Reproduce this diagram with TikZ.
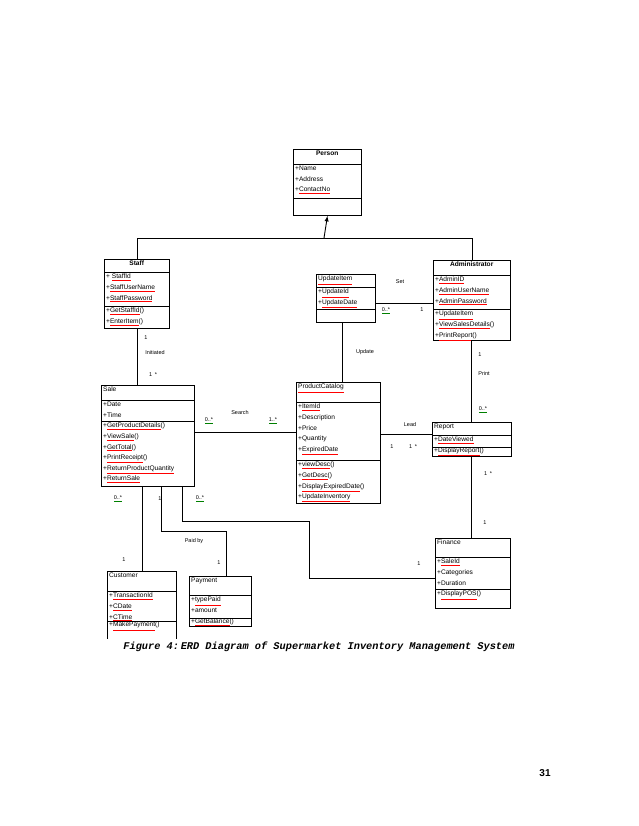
\documentclass[tikz,border=0pt]{standalone}
\usepackage{fontspec}
\setmainfont{Liberation Sans}
\newfontfamily\capfont{Liberation Mono}
\begin{document}
\newcommand{\rl}[1]{\textcolor{red}{\underline{\textcolor{black}{#1}}}}
\newcommand{\gl}[1]{\textcolor{green!50!black}{\underline{\textcolor{black}{#1}}}}
% \cls{name}{x1}{y1}{x2}{y2}{s1}{s2}{title}{attrs}
\newcommand{\cls}[9]{%
  \node[box,minimum width={#4-#2},minimum height={#5-#3},anchor=north west] (#1) at (#2,#3) {};
  \draw[con] (#2,#6) -- (#4,#6);
  \draw[con] (#2,#7) -- (#4,#7);
  \node[txt,anchor=north west] (#1-t) at (#2,#3) {#8};
  \node[txt,anchor=north west] (#1-a) at (#2,#6) {#9};
  \coordinate (#1-m) at (#2,#7);
}
\begin{tikzpicture}[x=1pt,y=-1pt,
  box/.style={draw,line width=0.9pt,inner sep=0pt},
  txt/.style={font=\fontsize{6.6}{10.6}\selectfont,align=left,inner xsep=2pt,inner ysep=2pt},
  lab/.style={font=\fontsize{5.5}{6}\selectfont,inner sep=0pt},
  con/.style={line width=0.9pt}]
\useasboundingbox (0,0) rectangle (638,826);
\cls{person}{293}{149}{361}{215}{164}{198}{\makebox[64pt]{\textbf{Person}}}{+Name\\+Address\\+\rl{ContactNo}}
\cls{staff}{104}{259}{169}{328}{272}{306}{\makebox[61pt]{\textbf{Staff}}}{+ \rl{StaffId}\\+\rl{StaffUserName}\\+\rl{StaffPassword}}
\node[txt,anchor=north west] (staff-mt) at (staff-m) {+\rl{GetStaffId}()\\+\rl{EnterItem}()};
\cls{upd}{316}{274}{375}{322}{287}{309}{\rl{UpdateItem}}{+\rl{UpdateId}\\+\rl{UpdateDate}}
\cls{admin}{433}{260}{510}{340}{275}{309}{\makebox[73pt]{\textbf{Administrator}}}{+\rl{AdminID}\\+\rl{AdminUserName}\\+\rl{AdminPassword}}
\node[txt,anchor=north west] (admin-mt) at (admin-m) {+\rl{UpdateItem}\\+\rl{ViewSalesDetails}()\\+\rl{PrintReport}()};
\cls{sale}{101}{385}{194}{486}{400}{421}{Sale}{+Date\\+Time}
\node[txt,anchor=north west] (sale-mt) at (sale-m) {+\rl{GetProductDetails}()\\+\rl{ViewSale}()\\+\rl{GetTotal}()\\+\rl{PrintReceipt}()\\+\rl{ReturnProductQuantity}\\+\rl{ReturnSale}};
\cls{pc}{296}{382}{380}{503}{402}{460}{\rl{ProductCatalog}}{+\rl{ItemId}\\+Description\\+Price\\+Quantity\\+\rl{ExpiredDate}}
\node[txt,anchor=north west] (pc-mt) at (pc-m) {+\rl{viewDesc}()\\+\rl{GetDesc}()\\+\rl{DisplayExpiredDate}()\\+\rl{UpdateInventory}};
\cls{report}{432}{422}{511}{456}{435}{447}{Report}{+\rl{DateViewed}}
\node[txt,anchor=north west,inner ysep=0.5pt] (report-mt) at (report-m) {+\rl{DisplayReport}()};
\cls{fin}{435}{538}{510}{608}{557}{589}{Finance}{+\rl{SaleId}\\+Categories\\+Duration}
\node[txt,anchor=north west] (fin-mt) at (fin-m) {+\rl{DisplayPOS}()};
\cls{cust}{107}{571}{176}{640}{591}{621}{Customer}{+\rl{TransactionId}\\+\rl{CDate}\\+\rl{CTime}}
\node[txt,anchor=north west,inner ysep=1pt] (cust-mt) at (cust-m) {+\rl{MakePayment}()};
\cls{pay}{189}{576}{251}{626}{595}{618}{Payment}{+\rl{typePaid}\\+amount}
\node[txt,anchor=north west,inner ysep=0.5pt] (pay-mt) at (pay-m) {+\rl{GetBalance}()};
% inheritance
\coordinate (j) at (324,238);
\draw[con,-latex] (j) -- (person.south);
\draw[con] (staff.north) |- (j);
\draw[con] (j) -| (admin.north);
% associations
\draw[con] (staff.south) -- (staff.south |- sale.north);
\draw[con] (upd.east |- 0,303) -- (admin.west |- 0,303);
\draw[con] (342,322) -- (342,382);
\draw[con] (471,340) -- (471,422);
\draw[con] (sale.east |- 0,432) -- (pc.west |- 0,432);
\draw[con] (pc.east |- 0,434) -- (report.west |- 0,434);
\draw[con] (471,456) -- (471,538);
\draw[con] (142,486) -- (142,571);
\draw[con] (161,486) -- (161,531) -| (226,576);
\draw[con] (182,486) -- (182,521) -| (309,578) -- (fin.west |- 0,578);
% labels
\node[lab] (l1) at (146,338) {1};
\node[lab] (l2) at (155,353) {Initiated};
\node[lab] (l3) at (153,375) {1\enspace*};
\node[lab] (l4) at (400,282) {Set};
\node[lab] (l5) at (386,311) {\gl{0..*}};
\node[lab] (l6) at (422,310) {1};
\node[lab] (l7) at (365,352) {Update};
\node[lab] (l8) at (480,355) {1};
\node[lab] (l9) at (484,374) {Print};
\node[lab] (l10) at (483,410) {\gl{0..*}};
\node[lab] (l11) at (240,413) {Search};
\node[lab] (l12) at (209,421) {\gl{0..*}};
\node[lab] (l13) at (273,421) {\gl{1..*}};
\node[lab] (l14) at (410,425) {Lead};
\node[lab] (l15) at (392,447) {1};
\node[lab] (l16) at (413,447) {1\enspace*};
\node[lab] (l17) at (488,474) {1\enspace*};
\node[lab] (l18) at (485,523) {1};
\node[lab] (l19) at (118,499) {\gl{0..*}};
\node[lab] (l20) at (124,560) {1};
\node[lab] (l21) at (160,499) {1};
\node[lab] (l22) at (194,541) {Paid by};
\node[lab] (l23) at (219,563) {1};
\node[lab] (l24) at (200,499) {\gl{0..*}};
\node[lab] (l25) at (419,564) {1};
\fill[white] (100,639) rectangle (540,660);
\node[font=\capfont\bfseries\itshape\fontsize{10.3}{12}\selectfont] (cap) at (319,647) {Figure 4:\,ERD Diagram of Supermarket Inventory Management System};
\node[font=\bfseries\fontsize{10}{12}\selectfont] (pg) at (545,773) {31};
\end{tikzpicture}
\end{document}
